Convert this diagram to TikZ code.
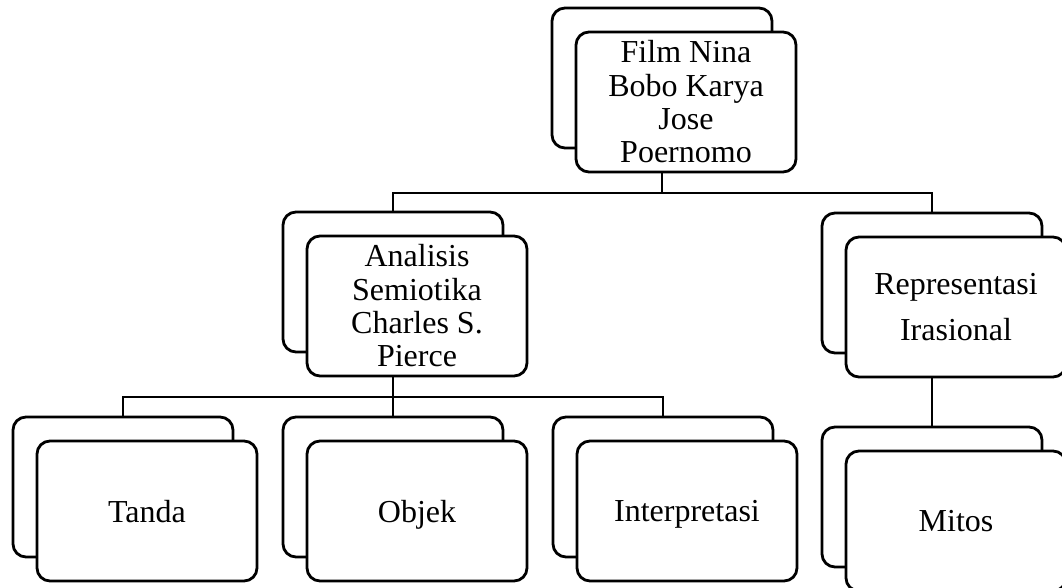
\documentclass[tikz,border=0pt]{standalone}
\usepackage{fontspec}
\setmainfont{Liberation Serif}
\tikzset{
  box/.style={draw, line width=2.8pt, rounded corners=13pt, minimum width=220pt,
    minimum height=140pt, inner sep=0pt, fill=white, align=center,
    font=\fontsize{32}{33.3}\selectfont},
  onebox/.style={box, text depth=0pt},
  conn/.style={line width=2.8pt}
}
\begin{document}
\begin{tikzpicture}[x=1pt,y=-1pt]
\useasboundingbox (0,0) rectangle (1062,588);
\clip (0,0) rectangle (1062,588);
\fill[white] (0,0) rectangle (1062,588);
% top
\node[box] (topB) at (662,78) {};
\node[box] (top) at (686,102) {Film Nina\\Bobo Karya\\Jose\\Poernomo};
% level 2
\node[box] (anaB) at (393,282) {};
\node[box] (ana) at (417,306) {Analisis\\Semiotika\\Charles S.\\Pierce};
\node[box] (repB) at (932,283) {};
\node[box] (rep) at (956,307) {Representasi\\[12pt]Irasional};
% level 3
\node[box] (tanB) at (123,487) {};
\node[onebox] (tan) at (147,511) {Tanda};
\node[box] (objB) at (393,487) {};
\node[onebox] (obj) at (417,511) {Objek};
\node[box] (intB) at (663,487) {};
\node[onebox] (int) at (687,511) {Interpretasi};
\node[box] (mitB) at (932,497) {};
\node[onebox] (mit) at (956,521) {Mitos};
% connectors
\coordinate (j1) at (662,193);
\coordinate (j2) at (393,397);
\draw[conn] (topB.center |- top.south) -- (j1);
\draw[conn] (anaB.north) -- (anaB.north |- j1) -- (repB.north |- j1) -- (repB.north);
\draw[conn] (anaB.center |- ana.south) -- (j2);
\draw[conn] (tanB.north) -- (tanB.north |- j2) -- (intB.north |- j2) -- (intB.north);
\draw[conn] (objB.north) -- (j2);
\draw[conn] (repB.center |- rep.south) -- (mitB.north);
\end{tikzpicture}
\end{document}
